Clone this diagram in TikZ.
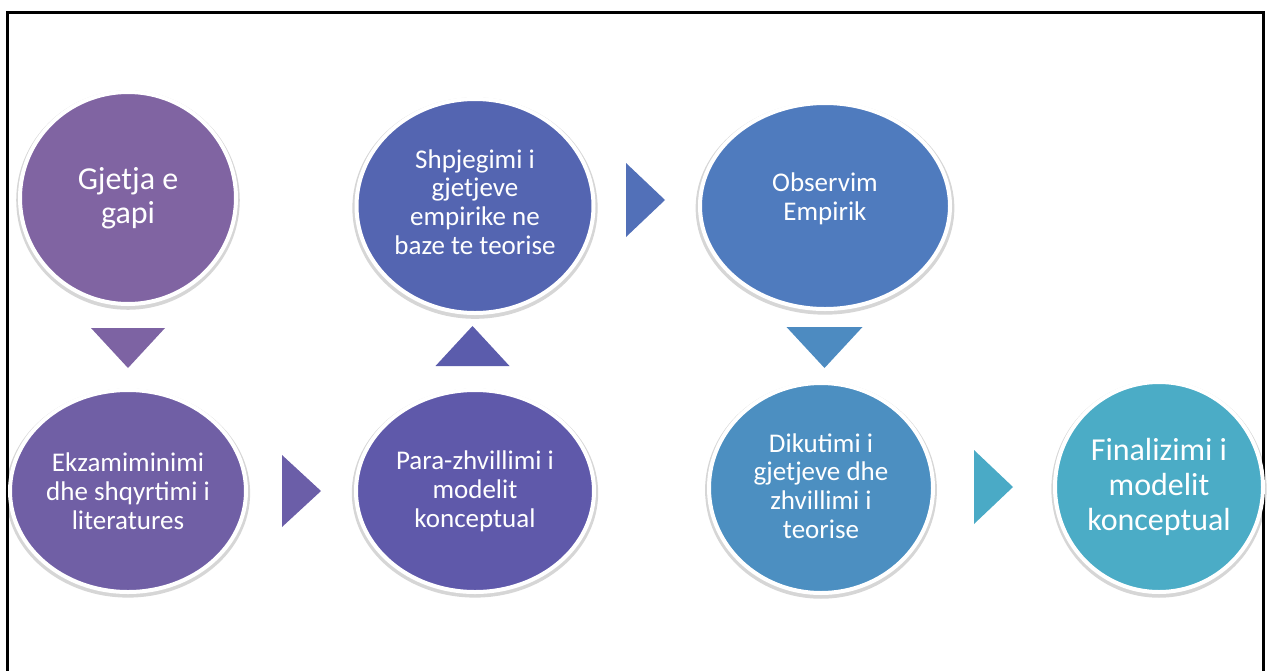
\documentclass[tikz,border=0pt]{standalone}
\usepackage{fontspec}
\setmainfont{Carlito}
\usetikzlibrary{shapes.geometric,shadows}

% step colours, purple to aqua
\definecolor{cA}{HTML}{8064A2}
\definecolor{tA}{HTML}{7D63A3}
\definecolor{cB}{HTML}{705FA5}
\definecolor{tB}{HTML}{6B5EA8}
\definecolor{cC}{HTML}{5F59AA}
\definecolor{tC}{HTML}{5B5CAC}
\definecolor{cD}{HTML}{5465B1}
\definecolor{tD}{HTML}{5270B8}
\definecolor{cE}{HTML}{4F7BBE}
\definecolor{tE}{HTML}{4D8BC1}
\definecolor{cF}{HTML}{4C8FC1}
\definecolor{tF}{HTML}{4AAAC6}
\definecolor{cG}{HTML}{4BACC6}

\begin{document}
\begin{tikzpicture}[x=1pt,y=-1pt,
  bubble/.style={ellipse, draw=white, line width=4pt, text=white,
    align=center, inner sep=0pt,
    drop shadow={shadow xshift=0pt, shadow yshift=-2pt,
      shadow scale=1.035, opacity=0.16, fill=black}},
  bigtext/.style={font=\fontsize{32}{34}\selectfont},
  midtext/.style={font=\fontsize{27}{28.8}\selectfont}]

\useasboundingbox (0,0) rectangle (1267,670);
\begin{scope}
  \clip (0,0) rectangle (1267,670);
  % outer frame, open below the page edge
  \draw[line width=3pt] (7,12) rectangle (1263,700);
\end{scope}

% steps
\node[bubble, bigtext, fill=cA, minimum width=216pt, minimum height=212pt]
  (gap) at (128,198) {Gjetja e\\gapi};
\node[bubble, midtext, fill=cB, minimum width=236pt, minimum height=202pt]
  (lit) at (128,491) {Ekzamiminimi\\dhe shqyrtimi i\\literatures};
\node[bubble, midtext, fill=cC, minimum width=238pt, minimum height=202pt]
  (pre) at (475,491) {Para-zhvillimi i\\modelit\\konceptual};
\node[bubble, midtext, fill=cD, minimum width=237pt, minimum height=214pt,
  text depth=8pt]
  (expl) at (475,206) {Shpjegimi i\\gjetjeve\\empirike ne\\baze te teorise};
\node[bubble, midtext, fill=cE, minimum width=250pt, minimum height=206pt,
  text depth=18pt]
  (obs) at (825,206) {Observim\\Empirik};
\node[bubble, midtext, fill=cF, minimum width=224pt, minimum height=210pt,
  text depth=4pt]
  (disc) at (821,488) {Dikutimi i\\gjetjeve dhe\\zhvillimi i\\teorise};
\node[bubble, font=\fontsize{32}{35}\selectfont, fill=cG,
  minimum width=208pt, minimum height=210pt]
  (fin) at (1159,487) {Finalizimi i\\modelit\\konceptual};

% chevrons between the steps
\coordinate (d1) at (128,348);
\coordinate (r1) at (302,491);
\coordinate (u1) at (472.5,346);
\coordinate (r2) at (646,200);
\coordinate (d2) at (824.5,347.5);
\coordinate (r3) at (994,487);

\fill[tA] (d1) ++(-37,-20) -- ++(74,0) -- ++(-37,40) -- cycle;
\fill[tB] (r1) ++(-20,-36) -- ++(39,36) -- ++(-39,36) -- cycle;
\fill[tC] (u1) ++(-37,20) -- ++(74,0) -- ++(-37,-40) -- cycle;
\fill[tD] (r2) ++(-20,-37) -- ++(39,37) -- ++(-39,37) -- cycle;
\fill[tE] (d2) ++(-38,-20.5) -- ++(76,0) -- ++(-38,41) -- cycle;
\fill[tF] (r3) ++(-20,-37) -- ++(39,37) -- ++(-39,37) -- cycle;

\end{tikzpicture}
\end{document}
